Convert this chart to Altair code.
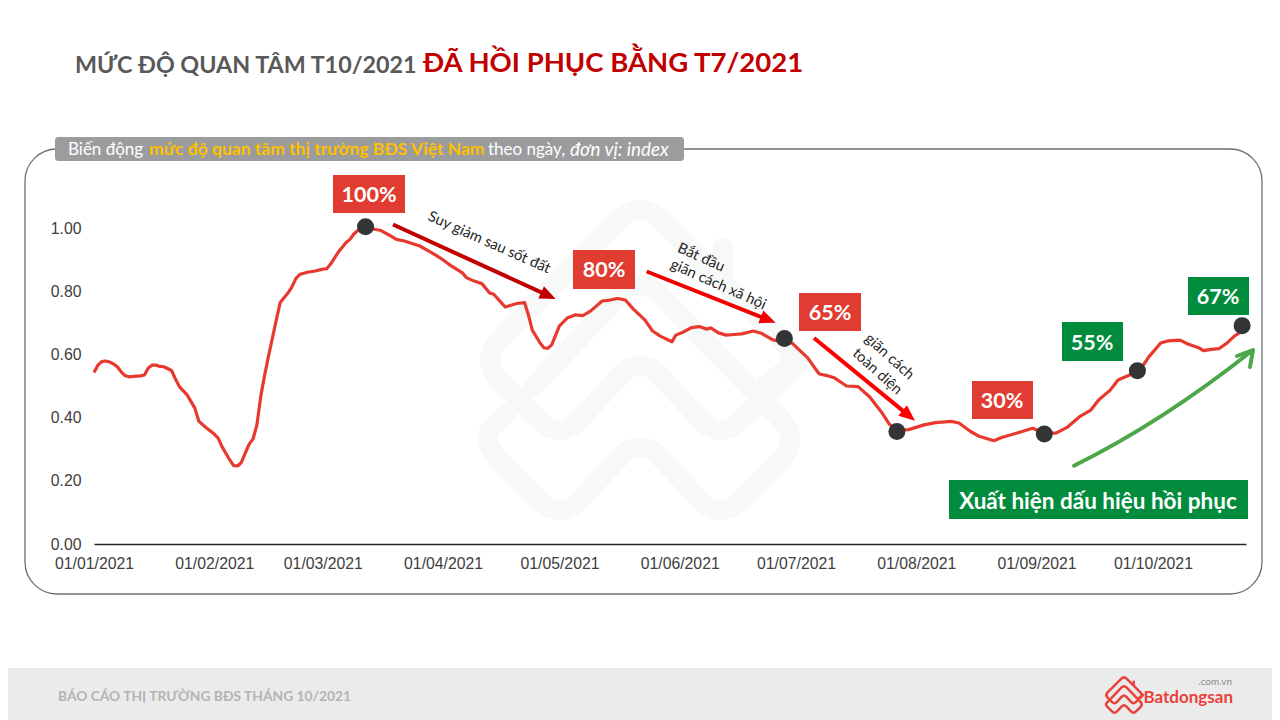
import math

import altair as alt
import pandas as pd

# days since 01/01/2021, index
days = [0, 1, 2, 3, 4, 5, 6, 7, 8, 9, 11, 12, 13, 14, 15, 16, 17, 18, 20, 21, 22, 24, 26, 27, 29,
        31, 32, 33, 35, 36, 37, 38, 39, 40, 41, 42, 43, 44, 45, 46, 47, 48, 50, 51, 52, 53, 55, 57,
        59, 60, 61, 63, 65, 66, 67, 68, 70, 72, 74, 76, 78, 80, 82, 84, 86, 88, 90, 92, 95, 96, 98,
        100, 102, 103, 105, 106, 109, 111, 112, 113, 115, 116, 117, 118, 120, 122, 124, 126, 128,
        131, 133, 135, 137, 139, 142, 144, 146, 149, 150, 152, 154, 156, 158, 159, 161, 163, 165,
        167, 170, 172, 175, 178, 180, 182, 184, 186, 187, 189, 191, 194, 197, 200, 203, 205, 207,
        210, 214, 217, 221, 223, 226, 228, 232, 234, 238, 242, 245, 248, 251, 254, 257, 259, 262,
        264, 267, 270, 272, 275, 277, 280, 282, 285, 286, 288, 290, 292, 294, 296]
index = [0.543, 0.566, 0.577, 0.579, 0.576, 0.570, 0.561, 0.545, 0.533, 0.529, 0.531, 0.532, 0.535,
         0.557, 0.566, 0.566, 0.562, 0.561, 0.549, 0.522, 0.498, 0.472, 0.430, 0.389, 0.367,
         0.348, 0.335, 0.308, 0.266, 0.248, 0.247, 0.258, 0.288, 0.316, 0.332, 0.377, 0.468, 0.535,
         0.595, 0.652, 0.709, 0.764, 0.794, 0.813, 0.839, 0.853, 0.860, 0.864,
         0.870, 0.871, 0.886, 0.924, 0.954, 0.964, 0.981, 0.992, 1.000, 0.997, 0.992, 0.978, 0.964,
         0.959, 0.951, 0.943, 0.929, 0.915, 0.899, 0.881, 0.858, 0.843, 0.832,
         0.824, 0.794, 0.791, 0.764, 0.750, 0.761, 0.764, 0.725, 0.677, 0.636, 0.621, 0.619, 0.630,
         0.690, 0.715, 0.725, 0.723, 0.737,
         0.769, 0.772, 0.777, 0.772, 0.744, 0.709, 0.674, 0.658, 0.640, 0.661, 0.671, 0.685, 0.688,
         0.680, 0.684, 0.668, 0.661, 0.663,
         0.665, 0.674, 0.667, 0.646, 0.639, 0.636, 0.612, 0.589, 0.554, 0.538, 0.533, 0.525, 0.500,
         0.498, 0.465, 0.418, 0.380, 0.361,
         0.362, 0.377, 0.384, 0.388, 0.383, 0.356, 0.342, 0.327, 0.337, 0.351, 0.366, 0.351, 0.351,
         0.370, 0.402, 0.424, 0.456, 0.487,
         0.519, 0.535, 0.557, 0.593, 0.636, 0.643, 0.645, 0.633, 0.620, 0.612, 0.616, 0.618, 0.635,
         0.658, 0.674]

peak_days = [70, 178, 207, 245, 269, 296]
peak_index = [1.004, 0.650, 0.356, 0.348, 0.548, 0.691]

y_ticks = [0, 0.2, 0.4, 0.6, 0.8, 1.0]
month_ticks = [alt.DateTime(year=2021, month=m, date=1, utc=True) for m in range(1, 11)]

RED = "#e03c31"
GREEN = "#008c3c"
TEXT_FONT = "Lato"

# page pixels -> plot coordinates
OX, OY = 94, 228
START = pd.Timestamp("2021-01-01")
line_df = pd.DataFrame({"date": [(START + pd.Timedelta(days=d)).strftime("%Y-%m-%d") for d in days], "value": index})
dot_df = pd.DataFrame({"date": [(START + pd.Timedelta(days=d)).strftime("%Y-%m-%d") for d in peak_days], "value": peak_index})
one = alt.Data(values=[{}])

x_scale = alt.Scale(
    type="utc",
    domain=[alt.DateTime(year=2021, month=1, date=1, utc=True), alt.DateTime(year=2021, month=10, date=25, utc=True)],
)
y_scale = alt.Scale(domain=[0, 1], nice=False)


def box(x0, y0, x1, y1, color, **kw):
    return alt.Chart(one).mark_rect(color=color, **kw).encode(
        x=alt.value(x0 - OX), x2=alt.value(x1 - OX), y=alt.value(y0 - OY), y2=alt.value(y1 - OY)
    )


def label(x, y, s, size, color, align="left", **kw):
    kw.setdefault("font", TEXT_FONT)
    # Lato sits a little high on a middle baseline
    dy = 0 if "angle" in kw else 1.8
    return alt.Chart(one).mark_text(text=s, fontSize=size, color=color, align=align, baseline="middle", **kw).encode(
        x=alt.value(x - OX), y=alt.value(y + dy - OY)
    )


def segment(x0, y0, x1, y1, color, width):
    return alt.Chart(one).mark_rule(color=color, strokeWidth=width).encode(
        x=alt.value(x0 - OX), x2=alt.value(x1 - OX), y=alt.value(y0 - OY), y2=alt.value(y1 - OY)
    )


def arrow(x0, y0, x1, y1, color, angle):
    d = math.hypot(x1 - x0, y1 - y0)
    cx, cy = x1 - 8 * (x1 - x0) / d, y1 - 8 * (y1 - y0) / d
    head = alt.Chart(one).mark_point(
        shape="M-1,-0.85L1,0L-1,0.85Z", filled=True, color=color, size=256, opacity=1, strokeWidth=0, angle=angle
    ).encode(x=alt.value(cx - OX), y=alt.value(cy - OY))
    return segment(x0, y0, cx, cy, color, 4) + head


def rounded(points, r):
    # polyline with softened corners, for the logo shape
    out = [f"M{points[0][0]},{points[0][1]}"]
    for i in range(1, len(points) - 1):
        (ax, ay), (bx, by), (cx, cy) = points[i - 1], points[i], points[i + 1]
        la = max(abs(ax - bx), abs(ay - by))
        lc = max(abs(cx - bx), abs(cy - by))
        sa, sc = min(r / la, 0.5), min(r / lc, 0.5)
        out.append(f"L{bx + (ax - bx) * sa:.1f},{by + (ay - by) * sa:.1f}")
        out.append(f"Q{bx},{by} {bx + (cx - bx) * sc:.1f},{by + (cy - by) * sc:.1f}")
    out.append(f"L{points[-1][0]},{points[-1][1]}")
    return "".join(out)


upper = [(125, 25), (161, 0), (0, -161), (-161, 0), (-80, 81), (0, -6), (80, 81), (161, 0)]
lower = [(-107, 27), (0, -86), (161, 80), (80, 161), (0, 76), (-80, 161), (-161, 80), (-133, 53)]
chimney = "M83,-78L83,-112"
logo_path = rounded(upper, 22) + rounded(lower, 22) + chimney


def stroked(path, cx, cy, scale, color, width):
    # custom symbol: path units are page pixels at scale 1
    return alt.Chart(one).mark_point(
        shape=path, size=4 * scale * scale, stroke=color, strokeWidth=width, opacity=1,
        fillOpacity=0, strokeCap="round", strokeJoin="round",
    ).encode(x=alt.value(cx - OX), y=alt.value(cy - OY))


line = alt.Chart(line_df).mark_line(color="#e8392f", strokeWidth=3.2, strokeJoin="round").encode(
    x=alt.X(
        "date:T",
        scale=x_scale,
        title=None,
        axis=alt.Axis(
            values=month_ticks, labelExpr="utcFormat(datum.value, '%d/%m/%Y')", ticks=False, grid=False,
            domainColor="#262626", domainWidth=1.5, labelFont="Liberation Sans", labelFontSize=15.8,
            labelColor="#404040", labelPadding=12, labelOverlap=False, labelFlush=False,
        ),
    ),
    y=alt.Y(
        "value:Q",
        scale=y_scale,
        title=None,
        axis=alt.Axis(
            values=y_ticks, format=".2f", ticks=False, grid=False, domain=False,
            labelFont="Liberation Sans", labelFontSize=15.8, labelColor="#404040", labelPadding=13,
        ),
    ),
)
dots = alt.Chart(dot_df).mark_circle(color="#333436", size=290, opacity=1).encode(
    x=alt.X("date:T", scale=x_scale), y=alt.Y("value:Q", scale=y_scale)
)

background = [
    box(0, 668, 1280, 720, "#ebebeb"),
    stroked(logo_path, 640, 360, 1, "#f7f8f8", 20),
    box(25, 149, 1262, 594, "#ffffff", fillOpacity=0, stroke="#6e6e6e", strokeWidth=1.3, cornerRadius=32),
    box(55, 137, 684, 161, "#9b9c9e", cornerRadius=3),
]

texts = [
    label(75, 64, "MỨC ĐỘ QUAN TÂM T10/2021", 23.3, "#595959", fontWeight="bold"),
    label(423, 62, "ĐÃ HỒI PHỤC BẰNG T7/2021", 27.5, "#c00000", fontWeight="bold"),
    label(68, 148, "Biến động", 17, "#ffffff"),
    label(149, 148, "mức độ quan tâm thị trường BĐS Việt Nam", 17.5, "#ffc000", fontWeight="bold"),
    label(488, 148, "theo ngày,", 17, "#ffffff"),
    label(570, 148, "đơn vị: index", 18.8, "#ffffff", fontStyle="italic"),
    label(369, 194, "100%", 21.5, "#ffffff", "center", fontWeight="bold"),
    label(604, 269, "80%", 21.5, "#ffffff", "center", fontWeight="bold"),
    label(830, 312, "65%", 21.5, "#ffffff", "center", fontWeight="bold"),
    label(1002, 400, "30%", 21.5, "#ffffff", "center", fontWeight="bold"),
    label(1092, 342, "55%", 21.5, "#ffffff", "center", fontWeight="bold"),
    label(1218, 296, "67%", 21.5, "#ffffff", "center", fontWeight="bold"),
    label(1098, 500, "Xuất hiện dấu hiệu hồi phục", 22.5, "#ffffff", "center", fontWeight="bold"),
    label(489, 243, "Suy giảm sau sốt đất", 14.8, "#262626", "center", angle=24),
    label(701, 258, "Bắt đầu", 14.8, "#262626", "center", angle=24),
    label(718, 285, "giãn cách xã hội", 14.8, "#262626", "center", angle=24),
    label(889, 357, "giãn cách", 14.8, "#262626", "center", angle=42),
    label(877, 372, "toàn diện", 14.8, "#262626", "center", angle=42),
    label(58, 695, "BÁO CÁO THỊ TRƯỜNG BĐS THÁNG 10/2021", 13.8, "#b4b4b4", fontWeight="bold"),
    label(1233, 696, "Batdongsan", 17, "#e8423a", "right", fontWeight="bold"),
    label(1232, 680, ".com.vn", 10, "#8a8a8a", "right"),
]

boxes = [
    box(333, 175, 405, 213, RED),
    box(573, 250, 635, 289, RED),
    box(799, 293, 861, 331, RED),
    box(972, 381, 1033, 419, RED),
    box(1062, 322, 1123, 361, GREEN),
    box(1188, 277, 1249, 315, GREEN),
    box(949, 480, 1248, 519, GREEN),
]

green_arrow = stroked("M-90,57.7Q-1.5,14 89,-58M73,-52L89,-58L86,-41", 1164, 408, 1, "#4ea64a", 4)
logo_mark = stroked(logo_path, 1124, 695, 0.118, "#e8423a", 2.5)

arrows = [
    arrow(393, 224.5, 555.7, 299, "#c00000", 24.6),
    arrow(646.7, 271.5, 775.7, 322.7, "#f00000", 21.6),
    arrow(814, 338, 915, 420.7, "#ff0000", 39.3),
]

chart = alt.layer(
    *background, line, *arrows, green_arrow, *boxes, dots, logo_mark, *texts
).properties(
    width=1152,
    height=316,
    padding={"left": 86, "top": 220, "right": 26, "bottom": 176},
    autosize="none",
).configure_view(stroke=None)

chart.save("out.html", embed_options={"renderer": "svg", "actions": False})
